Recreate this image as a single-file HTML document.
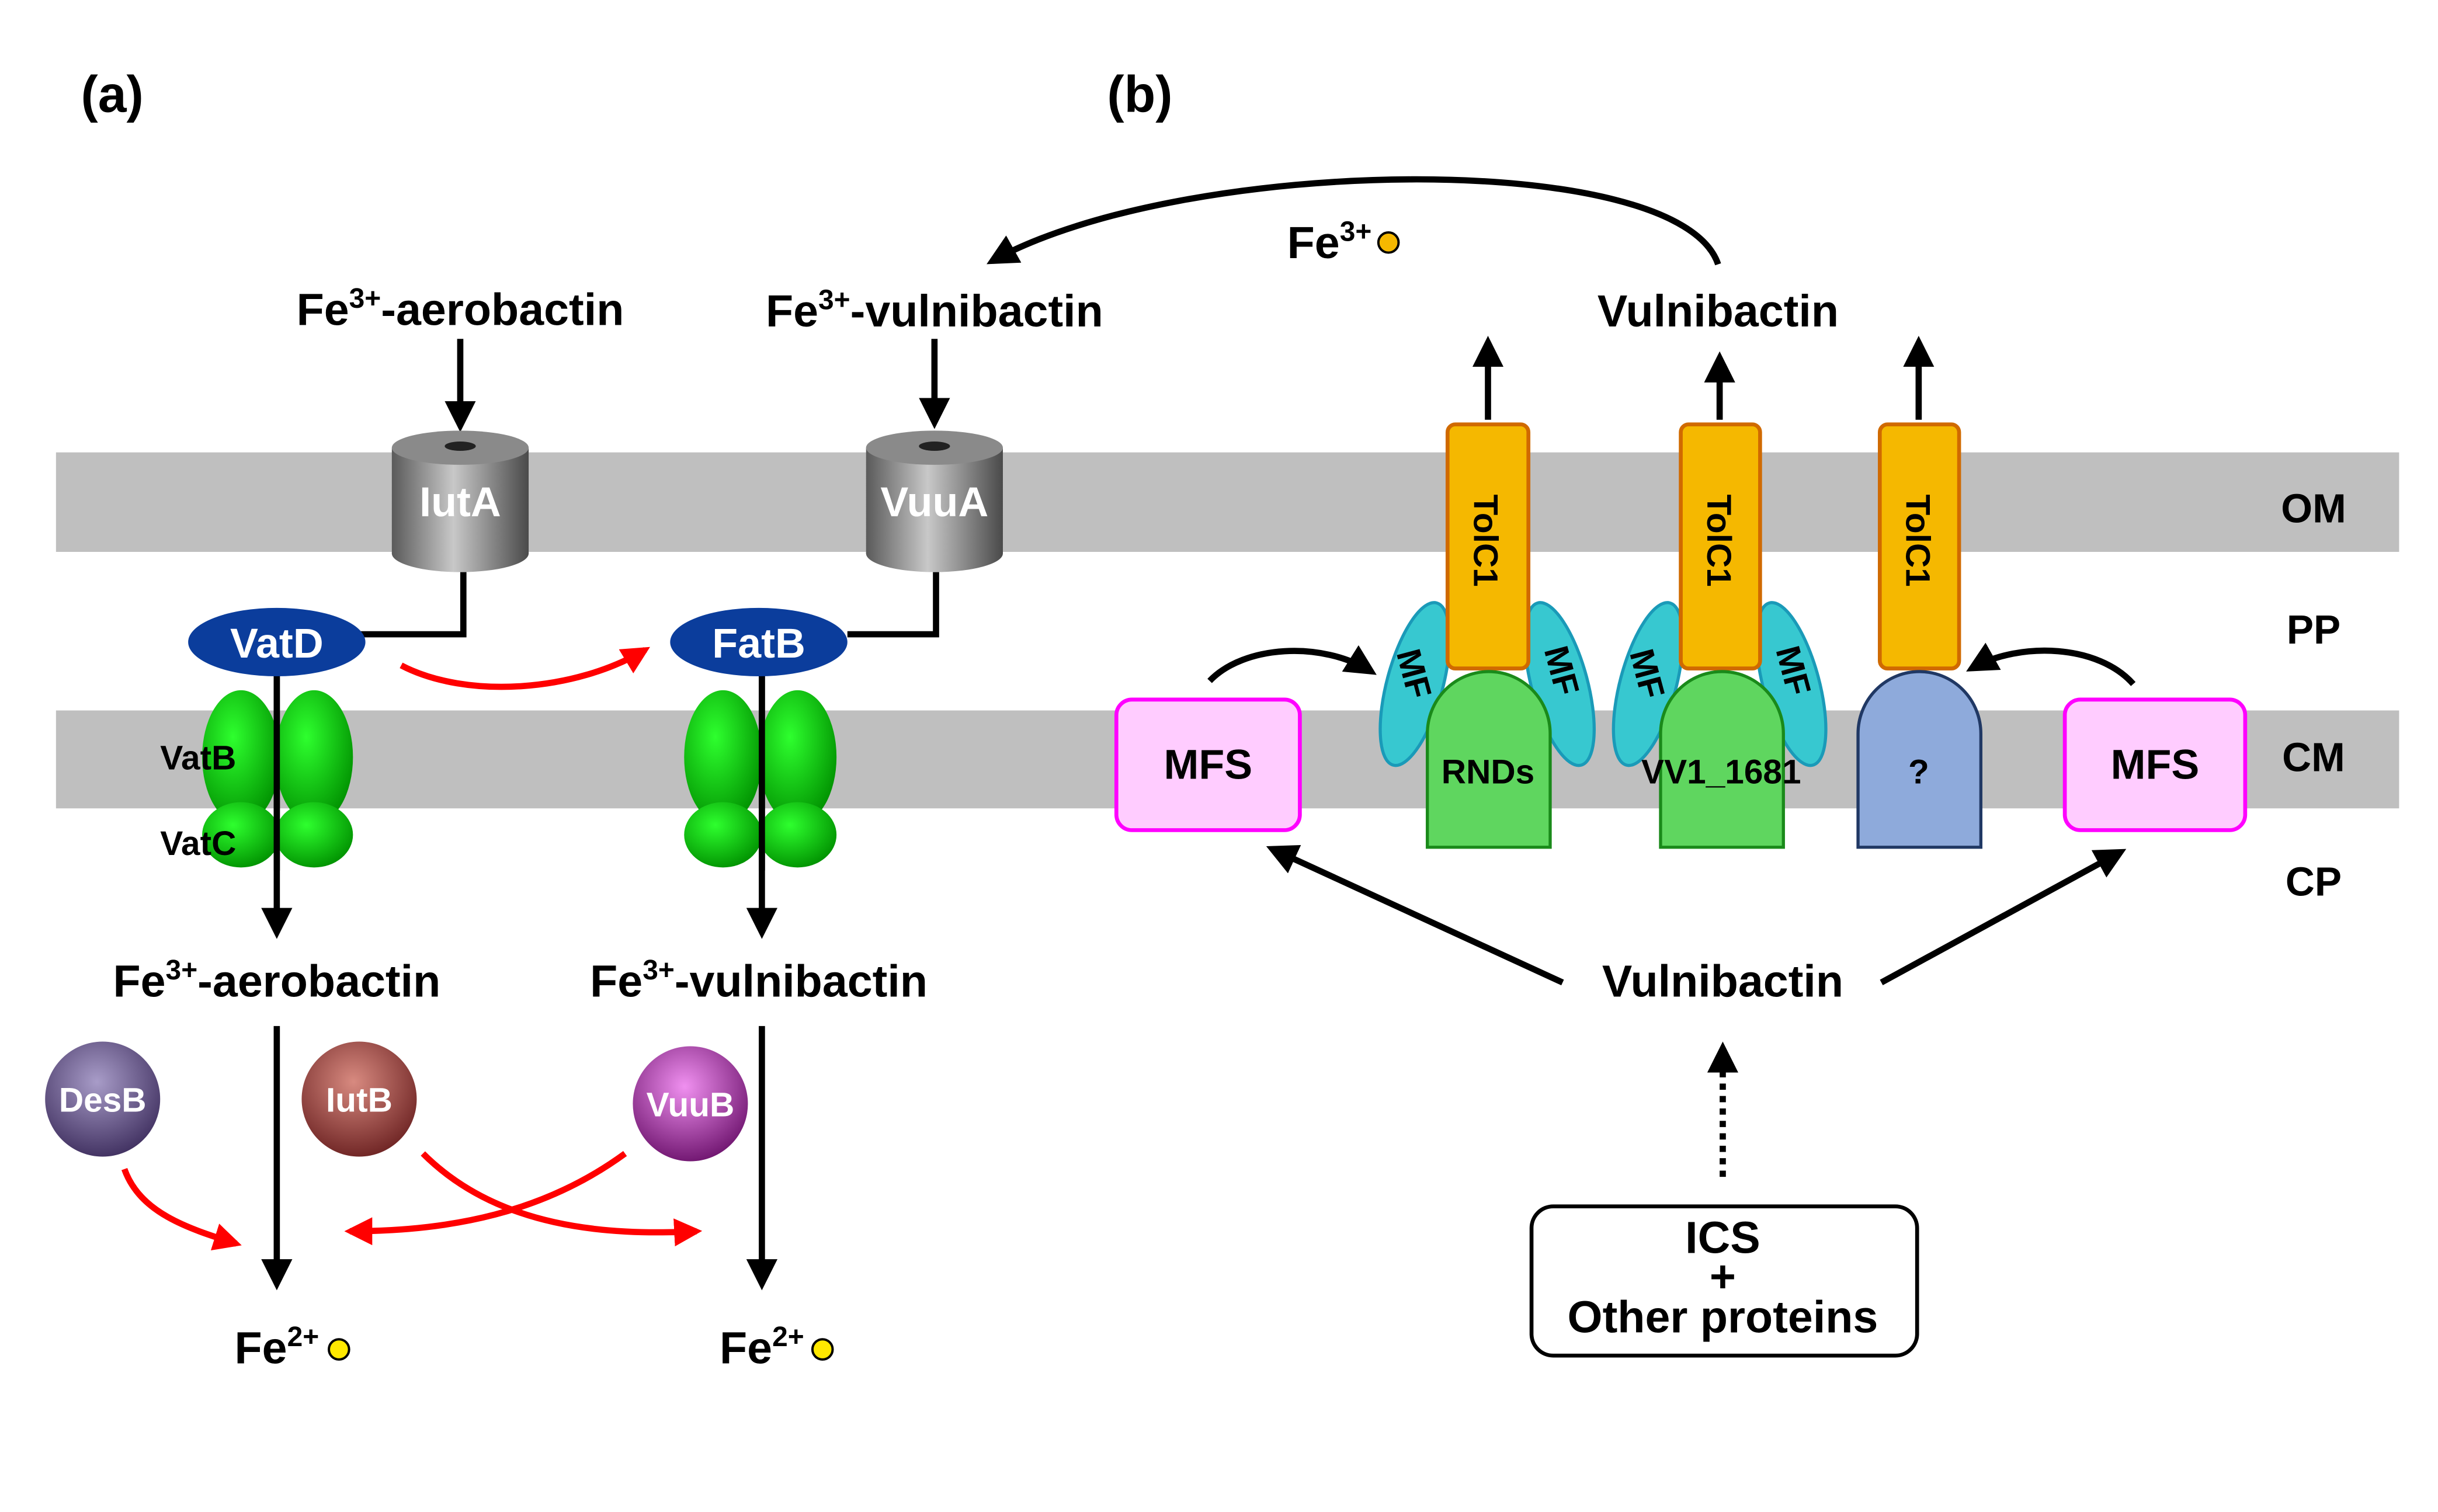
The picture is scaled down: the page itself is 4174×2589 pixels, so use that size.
<!DOCTYPE html>
<html><head><meta charset="utf-8"><style>html,body{margin:0;padding:0;background:#fff}svg{display:block}text{font-family:"Liberation Sans",Arial,sans-serif;font-weight:bold}</style></head><body>
<svg width="4174" height="2589" viewBox="0 0 1568 972.6" xmlns="http://www.w3.org/2000/svg">
<defs>
<linearGradient id="cyl" x1="0" x2="1"><stop offset="0" stop-color="#5a5a5a"/><stop offset="0.45" stop-color="#c8c8c8"/><stop offset="1" stop-color="#4a4a4a"/></linearGradient>
<radialGradient id="grn" cx="0.4" cy="0.35" r="0.7"><stop offset="0" stop-color="#2eff2e"/><stop offset="1" stop-color="#009000"/></radialGradient>
<radialGradient id="desb" cx="0.45" cy="0.35" r="0.7"><stop offset="0" stop-color="#a89cc8"/><stop offset="1" stop-color="#3c2c5c"/></radialGradient>
<radialGradient id="iutb" cx="0.45" cy="0.35" r="0.7"><stop offset="0" stop-color="#d88a80"/><stop offset="1" stop-color="#6a2020"/></radialGradient>
<radialGradient id="vuub" cx="0.45" cy="0.35" r="0.7"><stop offset="0" stop-color="#f090f0"/><stop offset="1" stop-color="#6a106a"/></radialGradient>
<marker id="ak" viewBox="0 0 10 10" refX="8" refY="5" markerWidth="5" markerHeight="5" orient="auto"><path d="M0,0L10,5L0,10z" fill="#000"/></marker>
<marker id="ar" viewBox="0 0 10 10" refX="8" refY="5" markerWidth="4.5" markerHeight="4.5" orient="auto"><path d="M0,0L10,5L0,10z" fill="#f00"/></marker>
</defs>
<rect x="36" y="291" width="1507" height="64" fill="#bfbfbf"/>
<rect x="36" y="457" width="1507" height="63" fill="#bfbfbf"/>
<g font-size="26" text-anchor="middle">
<text x="1488" y="336">OM</text><text x="1488" y="414">PP</text><text x="1488" y="496">CM</text><text x="1488" y="576">CP</text>
</g>
<text x="52" y="72" font-size="33">(a)</text><text x="712" y="72" font-size="33">(b)</text>
<g font-size="29" text-anchor="middle">
<text x="296" y="209">Fe<tspan font-size="18" dy="-11">3+</tspan><tspan dy="11">-aerobactin</tspan></text>
<text x="601" y="210">Fe<tspan font-size="18" dy="-11">3+</tspan><tspan dy="11">-vulnibactin</tspan></text>
<text x="178" y="641">Fe<tspan font-size="18" dy="-11">3+</tspan><tspan dy="11">-aerobactin</tspan></text>
<text x="488" y="641">Fe<tspan font-size="18" dy="-11">3+</tspan><tspan dy="11">-vulnibactin</tspan></text>
<text x="178" y="877">Fe<tspan font-size="18" dy="-11">2+</tspan></text>
<text x="490" y="877">Fe<tspan font-size="18" dy="-11">2+</tspan></text>
<text x="855" y="166">Fe<tspan font-size="18" dy="-11">3+</tspan></text>
<text x="1105" y="210">Vulnibactin</text>
<text x="1108" y="641">Vulnibactin</text>
</g>
<circle cx="218" cy="868" r="6.5" fill="#ffe800" stroke="#000" stroke-width="1.5"/>
<circle cx="529" cy="868" r="6.5" fill="#ffe800" stroke="#000" stroke-width="1.5"/>
<circle cx="893" cy="156" r="6.5" fill="#f5b800" stroke="#000" stroke-width="1.5"/>
<g stroke="#000" stroke-width="4" fill="none" marker-end="url(#ak)">
<line x1="296" y1="218" x2="296" y2="274"/><line x1="601" y1="218" x2="601" y2="272"/>
<line x1="178" y1="430" x2="178" y2="600"/><line x1="490" y1="430" x2="490" y2="600"/>
<line x1="178" y1="660" x2="178" y2="826"/><line x1="490" y1="660" x2="490" y2="826"/>
<path d="M1105,170 C1080,95 760,100 638,168"/>
<line x1="957" y1="270" x2="957" y2="220"/><line x1="1106" y1="270" x2="1106" y2="230"/><line x1="1234" y1="270" x2="1234" y2="220"/>
<path d="M778,438 C800,415 850,412 882,432"/><path d="M1372,440 C1350,415 1300,412 1268,430"/>
<line x1="1005" y1="632" x2="818" y2="546"/><line x1="1210" y1="632" x2="1364" y2="548"/>
<line x1="1108" y1="757" x2="1108" y2="674" stroke-dasharray="4,4"/>
</g>
<path d="M298,368V408H232M602,368V408H545" stroke="#000" stroke-width="4" fill="none"/>
<g>
<rect x="252" y="288" width="88" height="68" fill="url(#cyl)"/><ellipse cx="296" cy="356" rx="44" ry="12" fill="url(#cyl)"/><ellipse cx="296" cy="288" rx="44" ry="11" fill="#8a8a8a"/><ellipse cx="296" cy="287" rx="10" ry="3" fill="#222"/>
<rect x="557" y="288" width="88" height="68" fill="url(#cyl)"/><ellipse cx="601" cy="356" rx="44" ry="12" fill="url(#cyl)"/><ellipse cx="601" cy="288" rx="44" ry="11" fill="#8a8a8a"/><ellipse cx="601" cy="287" rx="10" ry="3" fill="#222"/>
<text x="296" y="332" font-size="27" fill="#fff" text-anchor="middle">IutA</text>
<text x="601" y="332" font-size="27" fill="#fff" text-anchor="middle">VuuA</text>
</g>
<g fill="url(#grn)">
<ellipse cx="155" cy="487" rx="25" ry="43"/><ellipse cx="202" cy="487" rx="25" ry="43"/><ellipse cx="155" cy="537" rx="25" ry="21"/><ellipse cx="202" cy="537" rx="25" ry="21"/>
<ellipse cx="465" cy="487" rx="25" ry="43"/><ellipse cx="513" cy="487" rx="25" ry="43"/><ellipse cx="465" cy="537" rx="25" ry="21"/><ellipse cx="513" cy="537" rx="25" ry="21"/>
</g>
<line x1="178" y1="430" x2="178" y2="560" stroke="#000" stroke-width="4"/><line x1="490" y1="430" x2="490" y2="560" stroke="#000" stroke-width="4"/>
<text x="103" y="495" font-size="22">VatB</text><text x="103" y="550" font-size="22">VatC</text>
<ellipse cx="178" cy="413" rx="57" ry="22" fill="#0b3d9c"/><ellipse cx="488" cy="413" rx="57" ry="22" fill="#0b3d9c"/>
<text x="178" y="423" font-size="27" fill="#fff" text-anchor="middle">VatD</text><text x="488" y="423" font-size="27" fill="#fff" text-anchor="middle">FatB</text>
<circle cx="66" cy="707" r="37" fill="url(#desb)"/><circle cx="231" cy="707" r="37" fill="url(#iutb)"/><circle cx="444" cy="710" r="37" fill="url(#vuub)"/>
<g font-size="22" fill="#fff" text-anchor="middle"><text x="66" y="715">DesB</text><text x="231" y="715">IutB</text><text x="444" y="718">VuuB</text></g>
<g stroke="#f00" stroke-width="4" fill="none" marker-end="url(#ar)">
<path d="M258,428 C300,450 370,445 415,418"/>
<path d="M80,752 C90,780 120,790 152,800"/>
<path d="M272,742 C320,790 390,795 448,792"/>
<path d="M402,742 C350,780 290,792 225,792"/>
</g>
<g fill="#37c8d0" stroke="#1a9ab8" stroke-width="2">
<ellipse cx="910" cy="440" rx="18" ry="54" transform="rotate(15 910 440)"/><ellipse cx="1003" cy="440" rx="18" ry="54" transform="rotate(-15 1003 440)"/>
<ellipse cx="1060" cy="440" rx="18" ry="54" transform="rotate(15 1060 440)"/><ellipse cx="1152" cy="440" rx="18" ry="54" transform="rotate(-15 1152 440)"/>
</g>
<g fill="#f5b800" stroke="#d06a00" stroke-width="2.5">
<rect x="931" y="273" width="52" height="157" rx="5"/><rect x="1081" y="273" width="51" height="157" rx="5"/><rect x="1209" y="273" width="51" height="157" rx="5"/>
</g>
<g font-size="22"><text transform="translate(948,318) rotate(90)">TolC1</text><text transform="translate(1098,318) rotate(90)">TolC1</text><text transform="translate(1226,318) rotate(90)">TolC1</text>
<text transform="translate(898,420) rotate(75)">MF</text><text transform="translate(993,418) rotate(75)">MF</text><text transform="translate(1048,420) rotate(75)">MF</text><text transform="translate(1142,418) rotate(75)">MF</text></g>
<path d="M918,545V472A39.5,40 0 0 1 997,472V545Z" fill="#5fd65f" stroke="#1a8a1a" stroke-width="2"/>
<path d="M1068,545V472A39.5,40 0 0 1 1147,472V545Z" fill="#5fd65f" stroke="#1a8a1a" stroke-width="2"/>
<path d="M1195,545V472A39.5,40 0 0 1 1274,472V545Z" fill="#8eaadb" stroke="#203864" stroke-width="2"/>
<g font-size="22" text-anchor="middle"><text x="957" y="504">RNDs</text><text x="1107" y="504">VV1_1681</text><text x="1234" y="504">?</text></g>
<rect x="718" y="450" width="118" height="84" rx="10" fill="#ffccff" stroke="#ff00ff" stroke-width="2.5"/>
<rect x="1328" y="450" width="116" height="84" rx="10" fill="#ffccff" stroke="#ff00ff" stroke-width="2.5"/>
<g font-size="27" text-anchor="middle"><text x="777" y="501">MFS</text><text x="1386" y="501">MFS</text></g>
<rect x="985" y="776" width="248" height="96" rx="14" fill="#fff" stroke="#000" stroke-width="2.5"/>
<g font-size="29" text-anchor="middle"><text x="1108" y="806">ICS</text><text x="1108" y="831">+</text><text x="1108" y="857">Other proteins</text></g>
</svg>
</body></html>
